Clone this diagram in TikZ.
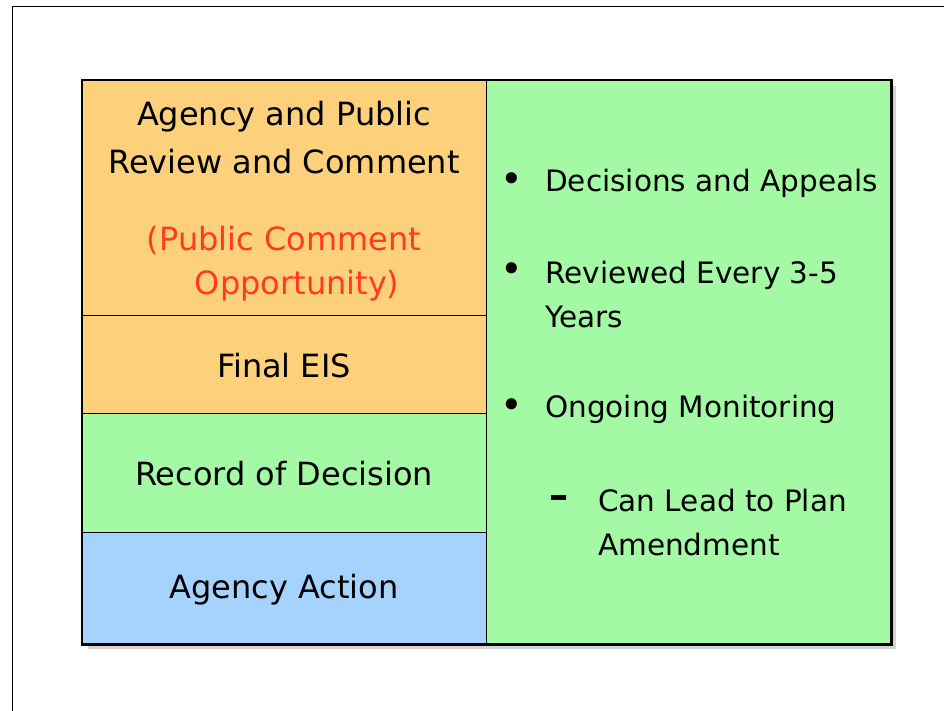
\documentclass[tikz,border=0pt]{standalone}
\usepackage{fontspec}
\setmainfont{DejaVu Sans}
\usetikzlibrary{shadows}
\definecolor{peach}{HTML}{FDD17C}
\definecolor{mint}{HTML}{A4F9A4}
\definecolor{sky}{HTML}{A6D3FD}
\definecolor{alert}{HTML}{FF3B1F}
\begin{document}
\begin{tikzpicture}[x=1pt,y=-1pt,
	cell/.style={draw,line width=0.7pt,inner sep=0pt,anchor=north west,
		minimum width=404pt},
	txt/.style={font=\fontsize{32}{48}\selectfont,text=black,inner sep=0pt},
	item/.style={font=\fontsize{29.5}{44}\selectfont,inner sep=0pt,anchor=west,align=left}]
	\useasboundingbox (0,0) rectangle (944,711);
	\clip (0,0) rectangle (944,711);
	\draw[line width=1pt] (12,7) rectangle (980,740);
	% board with shadow
	\node[draw,line width=2pt,fill=white,inner sep=0pt,anchor=north west,
		minimum width=808pt,minimum height=563pt,
		drop shadow={opacity=0.35,shadow xshift=5pt,shadow yshift=-5pt}]
		(board) at (82,80) {};
	\node[cell,fill=peach,minimum height=235pt] (review) at (82,80) {};
	\node[cell,fill=peach,minimum height=98pt] (final) at (82,315) {};
	\node[cell,fill=mint,minimum height=119pt] (record) at (82,413) {};
	\node[cell,fill=sky,minimum height=111pt] (action) at (82,532) {};
	\node[cell,fill=mint,minimum height=563pt] (after) at (486,80) {};
	\draw[line width=2pt] (board.north west) rectangle (board.south east);
	% left column
	\node[txt,align=center] (reviewtxt) at (284,138) {Agency and Public\\Review and Comment};
	\node[txt,align=left,text=alert,font=\fontsize{32}{44}\selectfont] (publictxt) at (284,264)
		{(Public Comment\\\hspace*{1.5em}Opportunity)};
	\node[txt] (finaltxt) at (284,366) {Final EIS};
	\node[txt] (recordtxt) at (284,474) {Record of Decision};
	\node[txt] (actiontxt) at (284,590) {Agency Action};
	% right column
	\node[item,scale=1.3] (dot1) at (500,183) {\textbullet};
	\node[item] (appeals) at (545,183) {Decisions and Appeals};
	\node[item,scale=1.3] (dot2) at (500,273) {\textbullet};
	\node[item] (years) at (545,295) {Reviewed Every 3-5\\Years};
	\node[item,scale=1.3] (dot3) at (500,409) {\textbullet};
	\node[item] (monitor) at (545,409) {Ongoing Monitoring};
	\node[item,scale=1.3] (dash) at (549,502) {\bfseries\textendash};
	\node[item] (amend) at (598,522) {Can Lead to Plan\\Amendment};
\end{tikzpicture}
\end{document}
